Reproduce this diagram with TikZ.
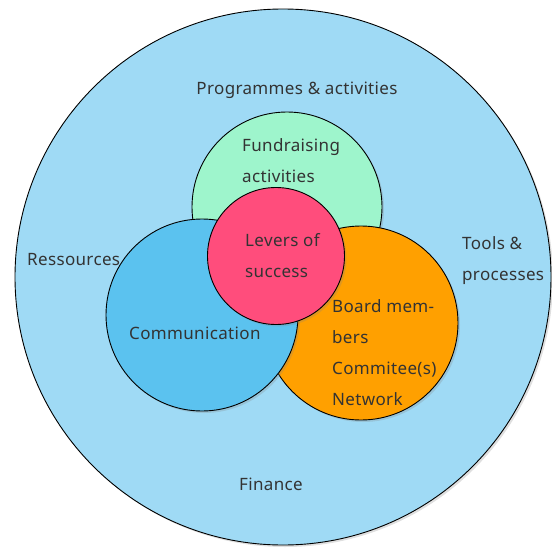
\documentclass[tikz,border=0pt]{standalone}
\usepackage{fontspec}
\setmainfont[LetterSpace=2]{Noto Sans}
\usetikzlibrary{shadows}
\definecolor{outerblue}{HTML}{9FDAF5}
\definecolor{fundgreen}{HTML}{9EF5CC}
\definecolor{commblue}{HTML}{5BC2EF}
\definecolor{boardorange}{HTML}{FFA000}
\definecolor{leverpink}{HTML}{FF4D7C}
\definecolor{txtgray}{HTML}{333333}
\tikzset{
  ring/.style={circle, draw=black, line width=0.9pt, inner sep=0pt,
    drop shadow={shadow xshift=2pt, shadow yshift=-2pt, opacity=0.25}},
  txt/.style={text=txtgray, inner sep=0pt, align=left,
    font=\fontsize{17}{31}\selectfont}
}

\begin{document}
\begin{tikzpicture}[x=1pt, y=-1pt]
    \useasboundingbox (0,0) rectangle (552,549);
    % circles, back to front
    \node[ring, fill=outerblue, minimum size=536pt] (outer) at (283,277) {};
    \node[ring, fill=fundgreen, minimum size=190pt] (fund) at (287,207) {};
    \node[ring, fill=boardorange, minimum size=194pt] (board) at (361,323) {};
    \node[ring, fill=commblue, minimum size=192pt] (comm) at (202,315) {};
    \node[ring, fill=leverpink, minimum size=137pt] (lever) at (276,256) {};
    % texts (base = baseline of last line)
    \node[txt, anchor=base] (prog) at (297,94) {Programmes \& activities};
    \node[txt, anchor=base west] (fundtxt) at (242,182) {Fundraising\\activities};
    \node[txt, anchor=base west] (levertxt) at (245,277) {Levers of\\success};
    \node[txt, anchor=base west] (res) at (27,265) {Ressources};
    \node[txt, anchor=base west] (tools) at (462,280) {Tools \&\\processes};
    \node[txt, anchor=base west] (commtxt) at (129,339) {Communication};
    \node[txt, anchor=base west] (boardtxt) at (332,405) {Board mem-\\bers\\Commitee(s)\\Network};
    \node[txt, anchor=base] (fin) at (271,490) {Finance};
\end{tikzpicture}
\end{document}
